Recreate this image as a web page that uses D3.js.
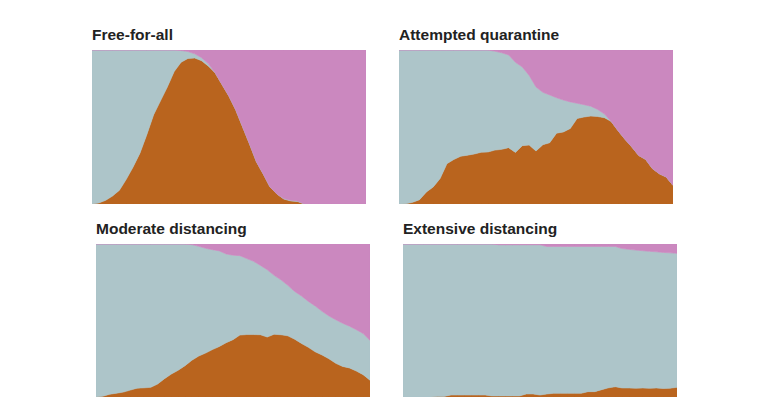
<!DOCTYPE html>
<html>
<head>
<meta charset="utf-8">
<script src="https://cdn.jsdelivr.net/npm/d3@7"></script>
<style>
  html, body { margin: 0; padding: 0; background: #fff; }
  svg { display: block; }
  .title { font-family: "Liberation Sans", Arial, sans-serif; font-weight: bold; font-size: 15.5px; fill: #222; }
</style>
</head>
<body>
<svg id="chart" width="768" height="397"></svg>
<script>
// Scenario titles
const titles = ["Free-for-all", "Attempted quarantine", "Moderate distancing", "Extensive distancing"];
// Series keys (bottom to top)
const seriesKeys = ["sick", "healthy", "recovered"];
const seriesColors = { sick: "#b9641e", healthy: "#adc5c9", recovered: "#cb88bf" };

// Share of population (%) sampled at 41 evenly spaced time steps
const freeSick =       [0,0.7,2.4,5.2,8.9,16,24,33,45,58,67,76,86,92,94.5,94.8,93,89.5,85,77.5,70,61,50,39,27.5,19.5,11,6.5,3.2,2,1.6,0,0,0,0,0,0,0,0,0,0];
const freeRecovered =  [0,0,0,0,0,0,0,0,0,0,0,0,0,0.3,1,2.5,5,9,15,22.5,30,39,50,61,72.5,80.5,89,93.5,96.5,97.5,98,100,100,100,100,100,100,100,100,100,100];

const quarSick =       [0,0.2,1.1,2.8,7.8,11.1,16.5,26.2,28.9,31,31.7,32.5,33.6,33.8,35,35.5,36.6,33.5,37.9,38.3,34.4,38.5,39.8,46,46.8,49,55.5,56.5,57.1,56.8,56,53.5,47.5,42,37,31.5,29,23,19.7,17.6,12.1];
const quarRecovered =  [0,0,0,0,0,0,0,0,0,0,0,0,0,0,0.8,1.8,3.2,8,11,16.5,24,27.5,29.2,31,32.5,33.7,34.6,35.5,36.5,38.6,41.6,46.5,52.5,58,63,68.5,71,77,80.3,82.4,87.9];

const modSick =        [0,0.5,1.8,2.5,3.2,4.5,5.8,6,6.3,8.5,12,15,17.5,20.5,24,26.8,28.7,31,33,35.5,37.5,40.5,40.8,40.8,40.7,39.2,41,40.7,40,37.8,35,32.5,29.5,27.5,25,22,20,19,17,14.6,11];
const modRecovered =   [0,0,0,0,0,0,0,0,0,0,0,0,0,0,0.4,1.5,2.8,3.7,4.5,6.5,7.3,7.6,9.5,11.3,14,16.8,20.5,23.4,27,31,34,37.5,40.5,44,47,49.5,51.8,53.7,56,58.5,63];

const extSick =        [0,0,0,0,0,0.4,0.4,1.3,1.3,1.3,1.3,1.3,1.3,0.7,0.7,0.7,0.7,0.7,2,2,1.3,2,2.4,2.4,2.4,2.4,2.4,3.5,3.5,4.8,6,6.7,5.9,5.9,5.8,5.9,5.7,5.9,5.6,5.8,6.3];
const extRecovered =   [0,0,0,0,0,0,0,0,0,0,0,0,0,0,0.5,0.5,0.5,0.5,0.5,0.5,0.5,1.6,1.6,1.6,1.6,1.6,1.6,1.6,1.6,1.6,1.6,1.6,3,3.5,4,4.4,4.8,5.1,5.5,5.8,6.1];

const panelSick = [freeSick, quarSick, modSick, extSick];
const panelRecovered = [freeRecovered, quarRecovered, modRecovered, extRecovered];

// Layout
const panels = [
  { x: 92,  y: 50,  w: 274, h: 154 },
  { x: 399, y: 50,  w: 274, h: 154 },
  { x: 96,  y: 244, w: 274, h: 153 },
  { x: 403, y: 244, w: 274, h: 153 }
];

const svg = d3.select("#chart");

panels.forEach((p, k) => {
  const sick = panelSick[k];
  const rec = panelRecovered[k];
  const rows = sick.map((s, i) => ({
    t: i,
    sick: s,
    recovered: rec[i],
    healthy: Math.max(0, 100 - s - rec[i])
  }));

  const x = d3.scaleLinear().domain([0, sick.length - 1]).range([0, p.w]);
  const y = d3.scaleLinear().domain([0, 100]).range([p.h, 0]);

  const stacked = d3.stack().keys(seriesKeys)(rows);
  const area = d3.area()
    .x(d => x(d.data.t))
    .y0(d => y(d[0]))
    .y1(d => y(Math.min(100, d[1])))
    .curve(d3.curveLinear);

  const g = svg.append("g").attr("transform", `translate(${p.x},${p.y})`);

  g.append("clipPath").attr("id", "clip" + k)
    .append("rect").attr("width", p.w).attr("height", p.h);

  g.append("g").attr("clip-path", `url(#clip${k})`)
    .selectAll("path")
    .data(stacked)
    .join("path")
    .attr("d", area)
    .attr("fill", d => seriesColors[d.key])
    .attr("stroke", d => seriesColors[d.key])
    .attr("stroke-width", 0.6);

  svg.append("text")
    .attr("class", "title")
    .attr("x", p.x)
    .attr("y", p.y - 10)
    .text(titles[k]);
});
</script>
</body>
</html>
